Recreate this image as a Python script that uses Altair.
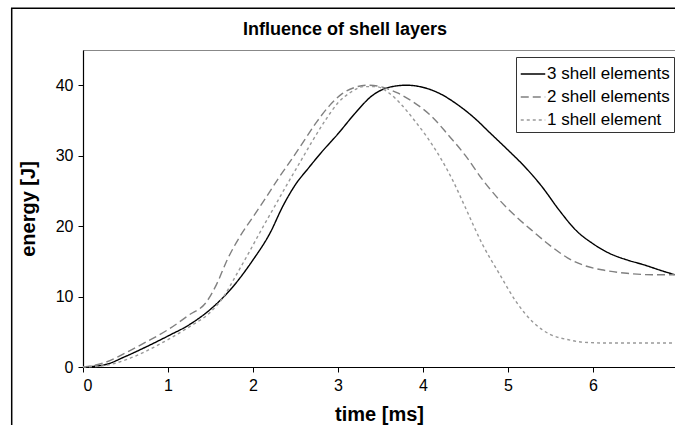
import altair as alt
import pandas as pd

series_names = ["3 shell elements", "2 shell elements", "1 shell element"]

t3 = [0, 0.25, 0.5, 0.75, 1.0, 1.25, 1.5, 1.75, 2.0, 2.2, 2.35, 2.5, 2.65, 2.8, 3.0, 3.2, 3.4, 3.6, 3.8,
      4.0, 4.2, 4.4, 4.6, 4.8, 5.0, 5.2, 5.4, 5.6, 5.8, 6.0, 6.2, 6.4, 6.6, 6.8, 6.96]
e3 = [0, 0.3, 1.5, 2.9, 4.4, 6.0, 8.2, 11.2, 15.2, 19.0, 22.8, 25.9, 28.2, 30.4, 33.1, 36.0, 38.5, 39.7, 40.0,
      39.7, 38.8, 37.3, 35.4, 33.1, 30.8, 28.4, 25.6, 22.3, 19.4, 17.5, 16.1, 15.2, 14.5, 13.7, 13.1]

t2 = [0, 0.25, 0.5, 0.75, 1.0, 1.25, 1.45, 1.57, 1.7, 1.85, 2.0, 2.15, 2.3, 2.45, 2.6, 2.75, 2.9, 3.05, 3.2,
      3.35, 3.5, 3.7, 3.9, 4.1, 4.3, 4.5, 4.7, 4.9, 5.1, 5.3, 5.5, 5.7, 5.9, 6.1, 6.4, 6.7, 6.96]
e2 = [0, 0.6, 2.0, 3.6, 5.3, 7.4, 9.2, 11.7, 15.3, 18.6, 21.3, 24.0, 26.8, 29.4, 32.1, 34.8, 37.1, 38.8, 39.7,
      40.0, 39.8, 38.9, 37.5, 35.6, 32.9, 30.0, 26.6, 23.7, 21.3, 19.2, 17.2, 15.5, 14.4, 13.8, 13.3, 13.1, 13.1]

t1 = [0, 0.25, 0.5, 0.75, 1.0, 1.25, 1.5, 1.65, 1.8, 1.95, 2.1, 2.25, 2.4, 2.55, 2.7, 2.85, 3.0, 3.15, 3.3,
      3.45, 3.6, 3.75, 3.9, 4.05, 4.2, 4.35, 4.5, 4.7, 4.9, 5.1, 5.3, 5.5, 5.7, 5.9, 6.2, 6.6, 6.96]
e1 = [0, 0.2, 1.0, 2.3, 3.9, 5.7, 7.8, 9.9, 13.0, 16.2, 19.5, 22.7, 25.9, 29.0, 32.1, 35.0, 37.5, 39.0, 39.8,
      39.8, 38.9, 37.2, 35.0, 32.6, 29.8, 26.5, 22.6, 17.4, 13.2, 9.2, 6.3, 4.6, 3.9, 3.5, 3.4, 3.4, 3.4]

y_ticks = [0, 10, 20, 30, 40]
x_ticks = [0, 1, 2, 3, 4, 5, 6]

rows = []
for name, ts, es in zip(series_names, [t3, t2, t1], [e3, e2, e1]):
    for i, (t, e) in enumerate(zip(ts, es)):
        rows.append({"series": name, "time": t, "energy": e, "order": i})
df = pd.DataFrame(rows)

FONT = "Liberation Sans"

lines = alt.Chart(df).mark_line(strokeWidth=1.4, interpolate="monotone").encode(
    x=alt.X("time:Q", scale=alt.Scale(domain=[0, 6.965], nice=False, zero=False),
            axis=alt.Axis(title="time [ms]", values=x_ticks, format="d", grid=False)),
    y=alt.Y("energy:Q", scale=alt.Scale(domain=[0, 45], nice=False),
            axis=alt.Axis(title="energy [J]", values=y_ticks, grid=False)),
    color=alt.Color("series:N",
                    scale=alt.Scale(domain=series_names, range=["#000000", "#808080", "#999999"]),
                    sort=series_names,
                    legend=alt.Legend(orient="none", legendX=433, legendY=7,
                                      symbolType="stroke", symbolSize=600, symbolStrokeWidth=1.5,
                                      labelFontSize=17, labelFont=FONT, labelColor="#000000",
                                      labelOffset=1, rowPadding=2, padding=4,
                                      strokeColor="#333333", fillColor="white")),
    strokeDash=alt.StrokeDash("series:N",
                              scale=alt.Scale(domain=series_names, range=[[1, 0], [8, 4], [3, 3]]),
                              sort=series_names, legend=None),
    order="order:Q",
)

frame_src = pd.DataFrame({"k": [0]})
outer_frame = alt.Chart(frame_src).mark_rect(fill=None, fillOpacity=0, stroke="black", strokeWidth=1.5).encode(
    x=alt.value(-71.3), x2=alt.value(760), y=alt.value(-41.7), y2=alt.value(500))

title_src = pd.DataFrame({"title": ["Influence of shell layers"]})
title_text = alt.Chart(title_src).mark_text(
    font=FONT, fontSize=18, fontWeight="bold", color="black", align="center", baseline="alphabetic"
).encode(x=alt.value(262), y=alt.value(-15), text="title:N")

chart = alt.layer(lines, outer_frame, title_text).properties(
    width=592, height=317,
    autosize=alt.AutoSizeParams(type="none"),
    padding={"left": 83, "top": 50, "right": 0, "bottom": 58},
    background="white",
).configure_view(stroke="#888888", strokeWidth=1).configure_axis(
    domainColor="black", tickColor="black", labelColor="black", titleColor="black",
    labelFont=FONT, titleFont=FONT, labelFontSize=16, titleFontSize=20, titleFontWeight="bold",
    tickSize=5, labelPadding=5, domainWidth=1.2,
).configure_axisY(titlePadding=17).configure_axisX(titlePadding=11).configure_legend(
    title=None
)

chart.save("out.html", embed_options={"renderer": "svg", "actions": False})
